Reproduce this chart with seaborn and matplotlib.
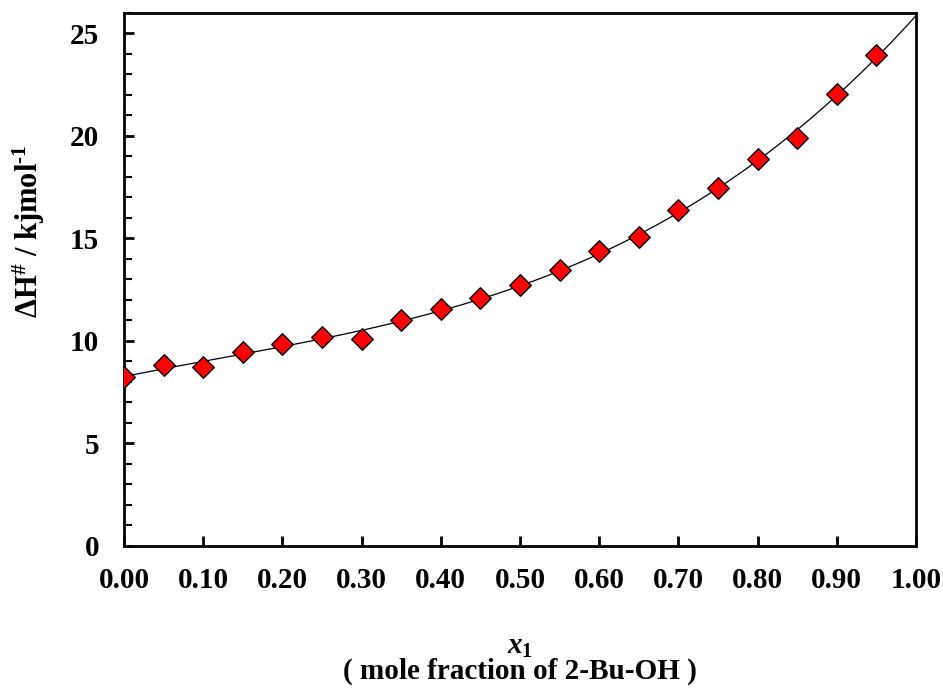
## for data
import numpy as np
import pandas as pd
## for plotting
import matplotlib
matplotlib.use("Agg")
import matplotlib.pyplot as plt
from matplotlib.ticker import MultipleLocator, FormatStrFormatter
import seaborn as sns

## data
x1 = [0.00, 0.05, 0.10, 0.15, 0.20, 0.25, 0.30, 0.35, 0.40, 0.45,
      0.50, 0.55, 0.60, 0.65, 0.70, 0.75, 0.80, 0.85, 0.90, 0.95]
dH = [8.24, 8.82, 8.74, 9.47, 9.83, 10.20, 10.09, 11.01, 11.58, 12.10,
      12.72, 13.45, 14.38, 15.05, 16.37, 17.45, 18.89, 19.92, 22.03, 23.96]
dtf = pd.DataFrame({"x1": x1, "dH": dH})

sns.set_style("ticks", {"axes.edgecolor": "black", "text.color": "black",
                        "xtick.color": "black", "ytick.color": "black",
                        "axes.labelcolor": "black"})
plt.rcParams["font.family"] = ["Liberation Serif", "DejaVu Serif"]
plt.rcParams["font.weight"] = "bold"
plt.rcParams["mathtext.fontset"] = "custom"
plt.rcParams["mathtext.rm"] = "Liberation Serif:bold"
plt.rcParams["mathtext.bf"] = "Liberation Serif:bold"
plt.rcParams["mathtext.it"] = "Liberation Serif:italic:bold"

fig, ax = plt.subplots(figsize=(9.43, 6.9), dpi=100)
fig.subplots_adjust(left=0.1315, right=0.9714, top=0.9812, bottom=0.2087)
ax.set_xlim(0, 1)
ax.set_ylim(0, 26)

### fitted curve + points
sns.regplot(data=dtf, x="x1", y="dH", order=3, ci=None, scatter=False,
            truncate=False, line_kws=dict(color="black", lw=0.9), ax=ax)
sns.scatterplot(data=dtf, x="x1", y="dH", marker="D", s=120, color="red",
                edgecolor="black", linewidth=1.0, zorder=3, ax=ax)

ax.set_xlim(0, 1)
ax.set_ylim(0, 26)
ax.xaxis.set_major_locator(MultipleLocator(0.1))
ax.xaxis.set_major_formatter(FormatStrFormatter("%.2f"))
ax.yaxis.set_major_locator(MultipleLocator(5))
ax.yaxis.set_minor_locator(MultipleLocator(1))
ax.tick_params(axis="both", which="major", direction="in", length=7, width=2,
               labelsize=21)
ax.tick_params(axis="x", pad=15)
ax.tick_params(axis="y", pad=18)
ax.tick_params(axis="y", which="minor", direction="in", length=6, width=1.5)
for sp in ax.spines.values():
    sp.set_linewidth(2)
    sp.set_visible(True)

ax.set_xlabel("$x_{\\mathrm{1}}$\n( mole fraction of 2-Bu-OH )", fontsize=21,
              fontweight="bold", labelpad=28, linespacing=0.9)
ax.set_ylabel("$\\Delta$H$^{\\#}$ / kjmol$^{\\text{-1}}$", fontsize=22,
              fontweight="bold")
ax.yaxis.set_label_coords(-0.097, 0.59)

fig.savefig("out.png", dpi=100)
